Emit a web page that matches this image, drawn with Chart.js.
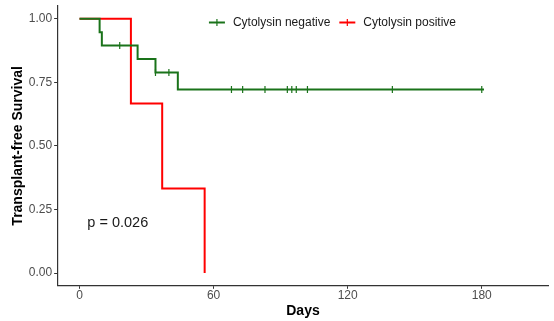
<!DOCTYPE html>
<html>
<head>
<meta charset="utf-8">
<script src="https://cdn.jsdelivr.net/npm/chart.js@4"></script>
<style>
  html, body { margin: 0; padding: 0; background: #fff; }
  #wrap { width: 554px; height: 321px; }
</style>
</head>
<body>
<div id="wrap"><canvas id="kmChart"></canvas></div>
<script>
// Kaplan-Meier steps
const negTimes = [0, 9, 10, 26, 34, 44, 181];
const negSurv = [1, 0.947, 0.895, 0.842, 0.789, 0.722, 0.722];
const negCensorTimes = [18, 34, 40, 68, 73, 83, 93, 95, 97, 102, 140, 180];
const negCensorSurv = [0.895, 0.789, 0.789, 0.722, 0.722, 0.722, 0.722, 0.722, 0.722, 0.722, 0.722, 0.722];

const posTimes = [0, 23, 37, 56];
const posSurv = [1, 0.667, 0.333, 0];

const xTicks = [0, 60, 120, 180];
const yTicks = [0, 0.25, 0.5, 0.75, 1];

const green = '#1a731a';
const red = '#ff0000';
const tickColor = '#4d4d4d';
const axisColor = '#333333';
const fontFam = '"Liberation Sans", Arial, sans-serif';

const toPts = (xs, ys) => xs.map((x, i) => ({ x, y: ys[i] }));

const pValue = {
    id: 'pValue',
    afterDatasetsDraw(chart) {
        const { ctx, scales } = chart;
        ctx.save();
        ctx.font = '14.5px ' + fontFam;
        ctx.fillStyle = '#1a1a1a';
        ctx.textAlign = 'left';
        ctx.textBaseline = 'middle';
        ctx.fillText('p = 0.026', scales.x.getPixelForValue(3.5), scales.y.getPixelForValue(0.195));
        ctx.restore();
    }
};

// horizontal legend inside the panel, ggplot style "+" keys
const panelLegend = {
    id: 'panelLegend',
    afterDraw(chart) {
        const { ctx, chartArea } = chart;
        const items = chart.data.datasets.filter(d => d.label !== 'censor');
        ctx.save();
        ctx.font = '12px ' + fontFam;
        const keyW = 16, keyGap = 8, itemGap = 9;
        const total = items.reduce((s, d) => s + keyW + keyGap + ctx.measureText(d.label).width, 0) + itemGap * (items.length - 1);
        let x = chartArea.left + 0.56 * (chartArea.right - chartArea.left) - total / 2;
        const y = chartArea.top + 16.5;
        items.forEach(d => {
            ctx.strokeStyle = d.borderColor;
            ctx.lineWidth = 2;
            ctx.beginPath();
            ctx.moveTo(x, y); ctx.lineTo(x + keyW, y);
            ctx.stroke();
            ctx.lineWidth = 1.2;
            ctx.beginPath();
            ctx.moveTo(x + keyW / 2, y - 3.5); ctx.lineTo(x + keyW / 2, y + 3.5);
            ctx.stroke();
            ctx.fillStyle = '#1a1a1a';
            ctx.textAlign = 'left';
            ctx.textBaseline = 'middle';
            ctx.fillText(d.label, x + keyW + keyGap, y);
            x += keyW + keyGap + ctx.measureText(d.label).width + itemGap;
        });
        ctx.restore();
    }
};

Chart.defaults.font.family = fontFam;
Chart.defaults.animation = false;

new Chart(document.getElementById('kmChart'), {
    type: 'line',
    data: {
        datasets: [
            {
                label: 'Cytolysin negative',
                data: toPts(negTimes, negSurv),
                borderColor: green,
                borderWidth: 2,
                stepped: 'before',
                pointRadius: 0
            },
            {
                label: 'Cytolysin positive',
                data: toPts(posTimes, posSurv),
                borderColor: red,
                borderWidth: 2,
                stepped: 'before',
                pointRadius: 0
            },
            {
                label: 'censor',
                data: toPts(negCensorTimes, negCensorSurv),
                showLine: false,
                borderColor: green,
                borderWidth: 1.2,
                pointStyle: 'line',
                rotation: 90,
                pointRadius: 3.5
            }
        ]
    },
    options: {
        responsive: true,
        maintainAspectRatio: false,
        layout: { padding: { left: 3, right: 3, top: 6, bottom: 1 } },
        plugins: {
            legend: { display: false },
            tooltip: { enabled: false }
        },
        scales: {
            x: {
                type: 'linear',
                min: -10,
                max: 210,
                afterBuildTicks: s => { s.ticks = xTicks.map(v => ({ value: v })); },
                ticks: { color: tickColor, font: { size: 12 }, padding: 0, maxRotation: 0 },
                grid: { drawOnChartArea: false, tickLength: 3, color: axisColor },
                border: { display: true, color: axisColor, width: 1.2 },
                title: {
                    display: true,
                    text: 'Days',
                    color: '#000',
                    font: { size: 14, weight: 'bold' },
                    padding: { top: 0, bottom: 0 }
                }
            },
            y: {
                min: -0.05,
                max: 1.05,
                afterBuildTicks: s => { s.ticks = yTicks.map(v => ({ value: v })); },
                afterFit: s => { s.paddingTop = 0; s.paddingBottom = 0; },
                ticks: {
                    color: tickColor,
                    font: { size: 12 },
                    padding: 2,
                    callback: v => Number(v).toFixed(2)
                },
                grid: { drawOnChartArea: false, tickLength: 3, color: axisColor },
                border: { display: true, color: axisColor, width: 1.2 },
                title: {
                    display: true,
                    text: 'Transplant-free Survival',
                    color: '#000',
                    font: { size: 14, weight: 'bold' },
                    padding: { top: 7, bottom: 0 }
                }
            }
        }
    },
    plugins: [pValue, panelLegend]
});
</script>
</body>
</html>
